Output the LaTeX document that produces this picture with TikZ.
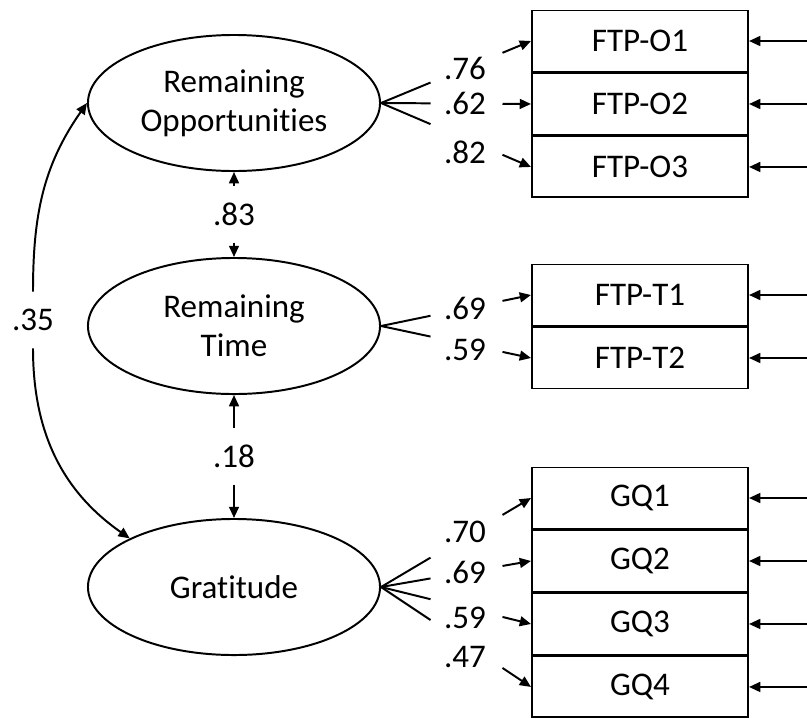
\documentclass[tikz,border=0pt]{standalone}
\usepackage{fontspec}
\setmainfont{Carlito}[Ligatures=NoCommon]
\usetikzlibrary{shapes.geometric,arrows.meta,positioning,calc}

\begin{document}
\begin{tikzpicture}[
        x=0.025cm, y=-0.025cm,
        every node/.style={font=\fontsize{23.5}{28}\selectfont},
        factor/.style={ellipse, draw, line width=1.4pt, minimum width=7.3cm,
                       minimum height=3.4cm, align=center},
        item/.style={rectangle, draw, line width=1.4pt, minimum width=5.4cm,
                     minimum height=1.525cm},
        coef/.style={inner sep=1pt},
        gapcoef/.style={inner sep=0pt, minimum height=1.4cm},
        link/.style={line width=1.4pt},
        arr/.style={link, -{Triangle[length=8pt,width=7pt]}}
    ]
        \useasboundingbox (0,0) rectangle (807,718);

        % latent factors
        \node[factor] (ro) at (234,103) {Remaining\\Opportunities};
        \node[factor] (rt) at (234,326) {Remaining\\Time};
        \node[factor] (gr) at (234,587) {Gratitude};

        % indicators
        \node[item] (o1) at (640,41) {FTP-O1};
        \node[item, below=0pt of o1] (o2) {FTP-O2};
        \node[item, below=0pt of o2] (o3) {FTP-O3};
        \node[item] (t1) at (640,295) {FTP-T1};
        \node[item, below=0pt of t1] (t2) {FTP-T2};
        \node[item] (q1) at (640,498) {GQ1};
        \node[item, below=0pt of q1] (q2) {GQ2};
        \node[item, below=0pt of q2] (q3) {GQ3};
        \node[item, below=0pt of q3] (q4) {GQ4};

        % correlations between factors
        \node[gapcoef] (c83) at ($(ro.south)!0.5!(rt.north)$) {.83};
        \draw[arr] (c83) -- (ro.south);
        \draw[arr] (c83) -- (rt.north);
        \node[gapcoef] (c18) at ($(rt.south)!0.5!(gr.north)$) {.18};
        \draw[arr] (c18) -- (rt.south);
        \draw[arr] (c18) -- (gr.north);
        \node[gapcoef] (c35) at (33,320) {.35};
        \draw[arr] (c35) to[out=90, in=235] (ro.west);
        \draw[arr] (c35) to[out=-90, in=145] (gr.155);

        % loadings
        \draw[link] (ro.east) -- ($(ro.east)!.33!(o1.west)$);
        \draw[arr] ($(ro.east)!.81!(o1.west)$) -- (o1.west);
        \node[coef] (lo1) at ($(ro.east)!.56!(o1.west)$) {.76};
        \draw[link] (ro.east) -- ($(ro.east)!.33!(o2.west)$);
        \draw[arr] ($(ro.east)!.81!(o2.west)$) -- (o2.west);
        \node[coef] (lo2) at ($(ro.east)!.56!(o2.west)$) {.62};
        \draw[link] (ro.east) -- ($(ro.east)!.33!(o3.west)$);
        \draw[arr] ($(ro.east)!.81!(o3.west)$) -- (o3.west);
        \node[coef, yshift=-0.33cm] (lo3) at ($(ro.east)!.56!(o3.west)$) {.82};

        \draw[link] (rt.east) -- ($(rt.east)!.33!(t1.west)$);
        \draw[arr] ($(rt.east)!.81!(t1.west)$) -- (t1.west);
        \node[coef] (lt1) at ($(rt.east)!.56!(t1.west)$) {.69};
        \draw[link] (rt.east) -- ($(rt.east)!.33!(t2.west)$);
        \draw[arr] ($(rt.east)!.81!(t2.west)$) -- (t2.west);
        \node[coef, yshift=-0.15cm] (lt2) at ($(rt.east)!.56!(t2.west)$) {.59};

        \draw[link] (gr.east) -- ($(gr.east)!.33!(q1.west)$);
        \draw[arr] ($(gr.east)!.81!(q1.west)$) -- (q1.west);
        \node[coef, yshift=0.12cm] (lq1) at ($(gr.east)!.56!(q1.west)$) {.70};
        \draw[link] (gr.east) -- ($(gr.east)!.33!(q2.west)$);
        \draw[arr] ($(gr.east)!.81!(q2.west)$) -- (q2.west);
        \node[coef] (lq2) at ($(gr.east)!.56!(q2.west)$) {.69};
        \draw[link] (gr.east) -- ($(gr.east)!.33!(q3.west)$);
        \draw[arr] ($(gr.east)!.81!(q3.west)$) -- (q3.west);
        \node[coef, yshift=-0.25cm] (lq3) at ($(gr.east)!.56!(q3.west)$) {.59};
        \draw[link] (gr.east) -- ($(gr.east)!.33!(q4.west)$);
        \draw[arr] ($(gr.east)!.81!(q4.west)$) -- (q4.west);
        \node[coef, yshift=-0.35cm] (lq4) at ($(gr.east)!.56!(q4.west)$) {.47};

        % error terms
        \draw[arr] ([xshift=1.6cm]o1.east) -- (o1.east);
        \draw[arr] ([xshift=1.6cm]o2.east) -- (o2.east);
        \draw[arr] ([xshift=1.6cm]o3.east) -- (o3.east);
        \draw[arr] ([xshift=1.6cm]t1.east) -- (t1.east);
        \draw[arr] ([xshift=1.6cm]t2.east) -- (t2.east);
        \draw[arr] ([xshift=1.6cm]q1.east) -- (q1.east);
        \draw[arr] ([xshift=1.6cm]q2.east) -- (q2.east);
        \draw[arr] ([xshift=1.6cm]q3.east) -- (q3.east);
        \draw[arr] ([xshift=1.6cm]q4.east) -- (q4.east);
    \end{tikzpicture}
\end{document}
